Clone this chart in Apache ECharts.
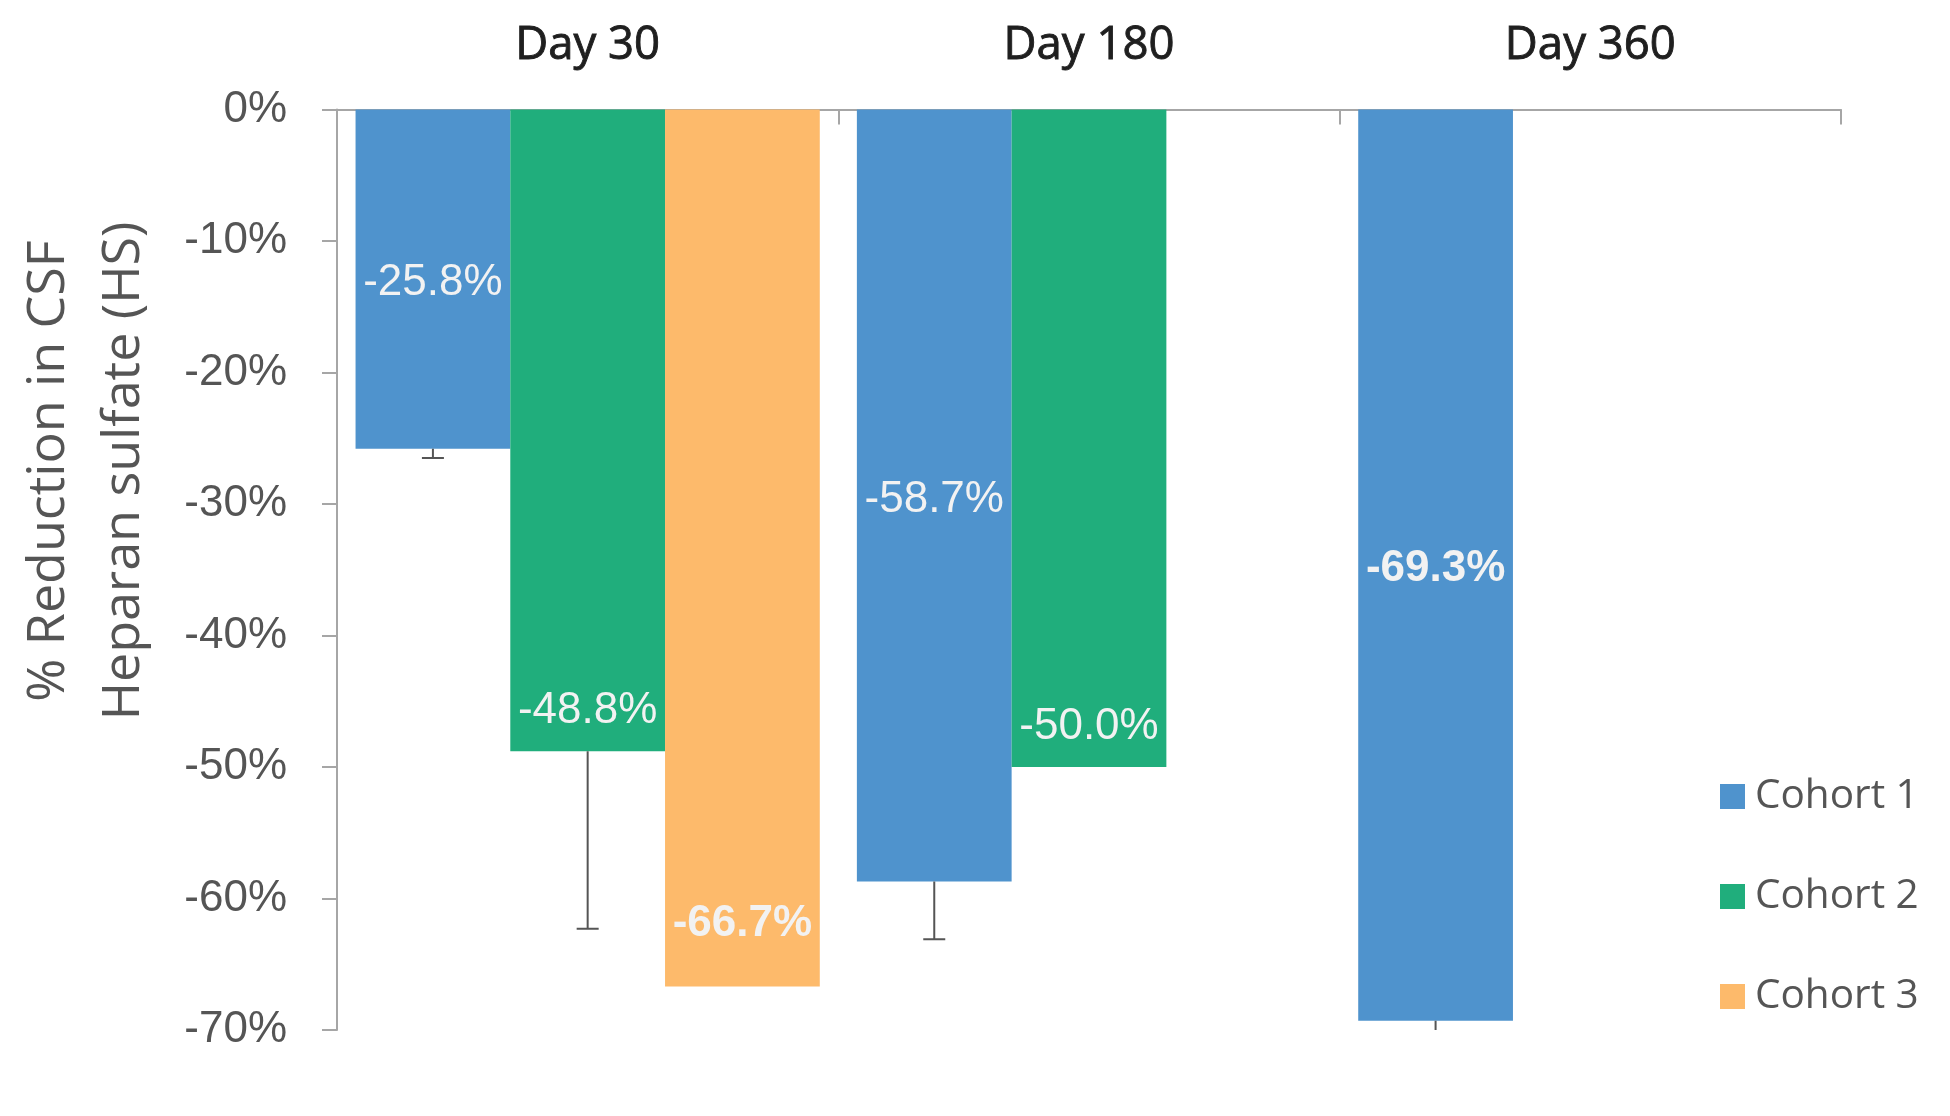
<!DOCTYPE html>
<html>
<head>
<meta charset="utf-8">
<script src="https://cdn.jsdelivr.net/npm/echarts@6/dist/echarts.min.js"></script>
<style>
  html, body { margin: 0; padding: 0; background: #fff; }
  #chart { width: 1950px; height: 1116px; }
</style>
</head>
<body>
<div id="chart"></div>
<script>
// categories and series
const days = ['Day 30', 'Day 180', 'Day 360'];
const cohortNames = ['Cohort 1', 'Cohort 2', 'Cohort 3'];
const cohort1 = [-25.8, -58.7, -69.3];
const cohort2 = [-48.8, -50.0, null];
const cohort3 = [-66.7, null, null];
// lower end of the error bars (only drawn downward)
const cohort1Err = [-26.5, -63.1, -71.5];
const cohort2Err = [-62.3, null, null];
const cohort3Err = [null, null, null];
const yTicks = [0, -10, -20, -30, -40, -50, -60, -70];

const colors = ['#4f93cd', '#20ae7c', '#fdba6b'];
const catGap = 0.074;
const labelFont = '"Liberation Sans", Arial, sans-serif';
const textFont = '"Open Sans", "Noto Sans", sans-serif';

// which labels are bold in the original
const boldLabel = [[false, false, true], [false, false, false], [true, false, false]];
const labelSpot = [
  { position: 'inside', distance: 5 },
  { position: 'insideBottom', distance: 22 },
  { position: 'insideBottom', distance: 45 }
];

const allValues = [cohort1, cohort2, cohort3];
const allErr = [cohort1Err, cohort2Err, cohort3Err];

const barSeries = allValues.map((vals, s) => ({
  name: cohortNames[s],
  type: 'bar',
  barGap: 0,
  barCategoryGap: (catGap * 100) + '%',
  itemStyle: { color: colors[s] },
  label: {
    show: true,
    position: labelSpot[s].position,
    distance: labelSpot[s].distance,
    offset: [0, 4],
    color: '#f2f2f2',
    fontFamily: labelFont,
    fontSize: 44,
    lineHeight: 44,
    formatter: p => p.value.toFixed(1) + '%'
  },
  data: vals.map((v, i) => v === null ? null : {
    value: v,
    label: { fontWeight: boldLabel[i][s] ? 'bold' : 'normal' }
  })
}));

const errData = [];
allErr.forEach((arr, s) => {
  arr.forEach((e, i) => {
    if (e !== null) errData.push([i, allValues[s][i], e, s]);
  });
});

const chart = echarts.init(document.getElementById('chart'));
chart.setOption({
  backgroundColor: '#fff',
  animation: false,
  grid: { left: 337, right: 109, top: 109.5, bottom: 86, containLabel: false },
  legend: {
    data: cohortNames,
    orient: 'vertical',
    left: 1715,
    top: 771,
    itemWidth: 25,
    itemHeight: 25,
    itemGap: 59,
    icon: 'rect',
    textStyle: { color: '#555', fontFamily: textFont, fontSize: 40.5, lineHeight: 40, padding: [0, 0, 0, 5] }
  },
  graphic: [{
    type: 'text',
    x: 87,
    y: 471,
    rotation: Math.PI / 2,
    style: {
      text: '% Reduction in CSF\nHeparan sulfate (HS)',
      fill: '#555',
      font: '52px ' + textFont,
      lineHeight: 75,
      align: 'center',
      verticalAlign: 'middle'
    }
  }],
  xAxis: {
    type: 'category',
    position: 'top',
    data: days,
    axisLine: { onZero: false, lineStyle: { color: '#a6a6a6', width: 2 } },
    axisTick: { show: true, inside: true, length: 15, lineStyle: { color: '#a6a6a6', width: 2 } },
    axisLabel: {
      color: '#1f1f1f', fontFamily: textFont, fontSize: 45.5, fontWeight: 'normal', margin: 40,
      textBorderColor: '#1f1f1f', textBorderWidth: 0.9
    }
  },
  yAxis: {
    type: 'value',
    min: yTicks[yTicks.length - 1],
    max: yTicks[0],
    interval: 10,
    splitLine: { show: false },
    axisLine: { show: true, lineStyle: { color: '#a6a6a6', width: 2 } },
    axisTick: { show: true, length: 15, lineStyle: { color: '#a6a6a6', width: 2 } },
    axisLabel: { color: '#555', fontFamily: labelFont, fontSize: 44, margin: 50, formatter: '{value}%' }
  },
  series: barSeries.concat([{
    type: 'custom',
    name: 'err',
    clip: true,
    z: 5,
    encode: { x: 0, y: [1, 2] },
    data: errData,
    renderItem: function (params, api) {
      const cat = api.value(0);
      const s = api.value(3);
      const top = api.coord([cat, api.value(1)]);
      const bot = api.coord([cat, api.value(2)]);
      const band = api.size([1, 0])[0];
      const barW = band * (1 - catGap) / 3;
      const x = top[0] + (s - 1) * barW;
      const st = { stroke: '#555', lineWidth: 2 };
      return {
        type: 'group',
        children: [
          { type: 'line', shape: { x1: x, y1: top[1], x2: x, y2: bot[1] }, style: st },
          { type: 'line', shape: { x1: x - 11, y1: bot[1], x2: x + 11, y2: bot[1] }, style: st }
        ]
      };
    }
  }])
});
</script>
</body>
</html>
